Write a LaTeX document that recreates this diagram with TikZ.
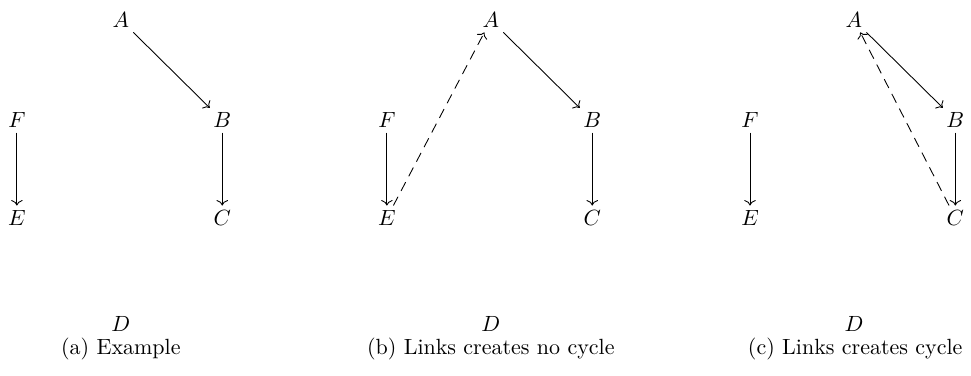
\documentclass[tikz,border=0pt]{standalone}
\usepackage{amsmath,amssymb}
\usepackage{tikz}
\usetikzlibrary{arrows.meta, positioning}
\tikzset{
  vtx/.style={inner sep=2pt},
  subcap/.style={inner sep=1pt},
  edge/.style={->},
  link/.style={->, dash pattern=on 4.5pt off 3pt},
}

\begin{document}
\begin{tikzpicture}
  \useasboundingbox (0,0) rectangle (15.51,-6.0);

  % (a)
  \begin{scope}
    \node[vtx] (aA) at (1.93,-0.32) {$A$};
    \node[vtx] (aF) at (0.27,-1.92) {$F$};
    \node[vtx] (aB) at (3.55,-1.92) {$B$};
    \node[vtx] (aE) at (0.27,-3.48) {$E$};
    \node[vtx] (aC) at (3.55,-3.48) {$C$};
    \node[vtx] (aD) at (1.93,-5.18) {$D$};
    \node[subcap] (capa) at (1.93,-5.58) {(a) Example};
    \draw[edge] (aA) -- (aB);
    \draw[edge] (aF) -- (aE);
    \draw[edge] (aB) -- (aC);
  \end{scope}

  % (b)
  \begin{scope}[xshift=5.91cm]
    \node[vtx] (bA) at (1.93,-0.32) {$A$};
    \node[vtx] (bF) at (0.27,-1.92) {$F$};
    \node[vtx] (bB) at (3.55,-1.92) {$B$};
    \node[vtx] (bE) at (0.27,-3.48) {$E$};
    \node[vtx] (bC) at (3.55,-3.48) {$C$};
    \node[vtx] (bD) at (1.93,-5.18) {$D$};
    \node[subcap] (capb) at (1.93,-5.58) {(b) Links creates no cycle};
    \draw[edge] (bA) -- (bB);
    \draw[edge] (bF) -- (bE);
    \draw[edge] (bB) -- (bC);
    \draw[link] (bE) -- (bA);
  \end{scope}

  % (c)
  \begin{scope}[xshift=11.71cm]
    \node[vtx] (cA) at (1.93,-0.32) {$A$};
    \node[vtx] (cF) at (0.27,-1.92) {$F$};
    \node[vtx] (cB) at (3.55,-1.92) {$B$};
    \node[vtx] (cE) at (0.27,-3.48) {$E$};
    \node[vtx] (cC) at (3.55,-3.48) {$C$};
    \node[vtx] (cD) at (1.93,-5.18) {$D$};
    \node[subcap] (capc) at (1.95,-5.58) {(c) Links creates cycle};
    \draw[edge] (cA) -- (cB);
    \draw[edge] (cF) -- (cE);
    \draw[edge] (cB) -- (cC);
    \draw[link] (cC) -- (cA);
  \end{scope}
\end{tikzpicture}
\end{document}
